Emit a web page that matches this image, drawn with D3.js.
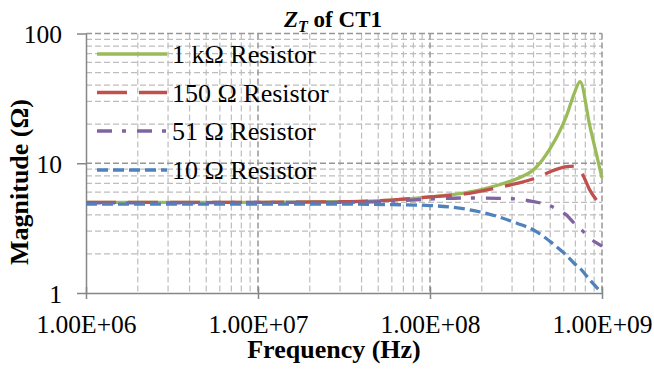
<!DOCTYPE html>
<html>
<head>
<meta charset="utf-8">
<script src="https://cdn.jsdelivr.net/npm/d3@7"></script>
<style>
  body { margin: 0; background: #fff; }
  svg text { font-family: "Liberation Serif", "DejaVu Serif", serif; }
</style>
</head>
<body>
<svg id="chart" width="654" height="373"></svg>
<script>
// --- Data ---
const freqs = [1e6, 3e6, 1e7, 3e7, 6e7, 1e8, 1.6e8, 2.5e8, 3.2e8, 4e8, 4.5e8, 5e8, 5.6e8, 6.2e8, 6.9e8, 7.45e8, 8.5e8, 1e9];
const seriesNames = ["1 k\u03A9 Resistor", "150 \u03A9 Resistor", "51 \u03A9 Resistor", "10 \u03A9 Resistor"];
const r1k  = [5.0, 5.0, 5.0, 5.05, 5.2, 5.5, 5.9, 6.8, 7.6, 8.9, 10.6, 13.0, 17.0, 23.0, 34.6, 42.6, 19.3, 7.7];
const r150 = [5.0, 5.0, 5.0, 5.05, 5.2, 5.5, 5.8, 6.5, 7.0, 7.6, 8.1, 8.6, 9.1, 9.4, 9.5, 8.9, 6.2, 4.6];
const r51  = [4.95, 4.95, 5.0, 5.0, 5.1, 5.3, 5.4, 5.37, 5.3, 5.06, 4.9, 4.7, 4.35, 4.0, 3.45, 3.15, 2.65, 2.3];
const r10  = [4.85, 4.85, 4.85, 4.85, 4.8, 4.72, 4.44, 3.87, 3.45, 3.06, 2.77, 2.49, 2.2, 1.96, 1.69, 1.55, 1.26, 1.0];
const xTicks = [1e6, 1e7, 1e8, 1e9];
const xTickLabels = ["1.00E+06", "1.00E+07", "1.00E+08", "1.00E+09"];
const yTicks = [1, 10, 100];
const yTickLabels = ["1", "10", "100"];

// --- Layout ---
const plot = { left: 86, right: 602, top: 33.5, bottom: 293 };
const colors = ["#9BBB59", "#C0504D", "#8064A2", "#4F81BD"];
const dashes = [null, "30,12", "15,10,4,11", "11,5"];
const serif = "'Liberation Serif', 'DejaVu Serif', serif";

const svg = d3.select("#chart");

const x = d3.scaleLog().domain([1e6, 1e9]).range([plot.left, plot.right]);
const y = d3.scaleLog().domain([1, 100]).range([plot.bottom, plot.top]);

// --- Grid (major + minor, dashed) ---
const minorX = [];
[1e6, 1e7, 1e8].forEach(d => { for (let k = 2; k <= 9; k++) minorX.push(d * k); });
const minorY = [];
[1, 10].forEach(d => { for (let k = 2; k <= 9; k++) minorY.push(d * k); });

const grid = svg.append("g");
grid.selectAll(".minx").data(minorX).enter().append("line")
    .attr("x1", d => x(d)).attr("x2", d => x(d))
    .attr("y1", plot.top).attr("y2", plot.bottom)
    .attr("stroke", "#bdbdbd").attr("stroke-width", 1.2).attr("stroke-dasharray", "6,3");
grid.selectAll(".miny").data(minorY).enter().append("line")
    .attr("x1", plot.left).attr("x2", plot.right)
    .attr("y1", d => y(d)).attr("y2", d => y(d))
    .attr("stroke", "#bdbdbd").attr("stroke-width", 1.2).attr("stroke-dasharray", "6,3");
grid.selectAll(".majx").data(xTicks.slice(1)).enter().append("line")
    .attr("x1", d => x(d)).attr("x2", d => x(d))
    .attr("y1", plot.top).attr("y2", plot.bottom)
    .attr("stroke", "#969696").attr("stroke-width", 1.5).attr("stroke-dasharray", "6,3");
grid.selectAll(".majy").data(yTicks.slice(1)).enter().append("line")
    .attr("x1", plot.left).attr("x2", plot.right)
    .attr("y1", d => y(d)).attr("y2", d => y(d))
    .attr("stroke", "#969696").attr("stroke-width", 1.5).attr("stroke-dasharray", "6,3");

// --- Axes ---
const xAxis = svg.append("g")
    .attr("transform", `translate(0,${plot.bottom})`)
    .call(d3.axisBottom(x).tickValues(xTicks).tickSize(6).tickSizeOuter(0)
        .tickFormat((d, i) => xTickLabels[i]));
xAxis.selectAll(".tick").append("line").attr("y2", -6);
xAxis.selectAll("text").attr("y", 40).attr("dy", 0);

const yAxis = svg.append("g")
    .attr("transform", `translate(${plot.left},0)`)
    .call(d3.axisLeft(y).tickValues(yTicks).tickSize(9).tickSizeOuter(0)
        .tickFormat((d, i) => yTickLabels[i]));
yAxis.selectAll("text").attr("x", -24).attr("dy", "0.36em");

[xAxis, yAxis].forEach(a => {
    a.attr("font-family", serif).attr("font-size", null);
    a.select(".domain").attr("stroke", "#868686").attr("stroke-width", 1.5);
    a.selectAll(".tick line").attr("stroke", "#868686").attr("stroke-width", 1.5);
    a.selectAll("text").attr("fill", "#000").style("font-size", "25.5px");
});

// --- Series ---
const allSeries = [r1k, r150, r51, r10];
const line = d3.line()
    .x(d => x(d[0]))
    .y(d => y(d[1]))
    .curve(d3.curveMonotoneX);

allSeries.forEach((vals, i) => {
    svg.append("path")
        .datum(freqs.map((f, j) => [f, vals[j]]))
        .attr("fill", "none")
        .attr("stroke", colors[i])
        .attr("stroke-width", 3.3)
        .attr("stroke-dasharray", dashes[i])
        .attr("d", line);
});

// --- Legend ---
const legendY = [54, 92.5, 131, 170];
const legend = svg.append("g");
seriesNames.forEach((name, i) => {
    legend.append("line")
        .attr("x1", 97).attr("x2", 167)
        .attr("y1", legendY[i]).attr("y2", legendY[i])
        .attr("stroke", colors[i]).attr("stroke-width", 3.3)
        .attr("stroke-dasharray", dashes[i]);
    legend.append("text")
        .attr("x", 172).attr("y", legendY[i] + 9.3)
        .style("font-size", "26px")
        .text(name);
});

// --- Titles ---
const title = svg.append("text")
    .attr("x", 333).attr("y", 27)
    .attr("text-anchor", "middle")
    .style("font-size", "23px").style("font-weight", "bold");
title.append("tspan").style("font-style", "italic").text("Z");
title.append("tspan").style("font-style", "italic").style("font-size", "16px").attr("dy", 5).text("T");
title.append("tspan").attr("dy", -5).text(" of CT1");

svg.append("text")
    .attr("x", 334).attr("y", 358)
    .attr("text-anchor", "middle")
    .style("font-size", "26px").style("font-weight", "bold")
    .text("Frequency (Hz)");

svg.append("text")
    .attr("transform", "translate(28,182) rotate(-90)")
    .attr("text-anchor", "middle")
    .style("font-size", "26px").style("font-weight", "bold")
    .text("Magnitude (\u03A9)");
</script>
</body>
</html>
